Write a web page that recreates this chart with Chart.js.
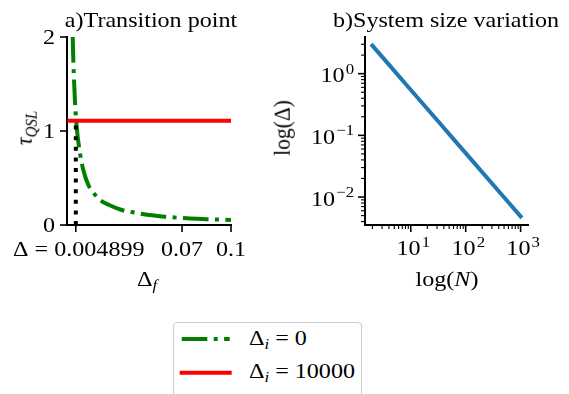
<!DOCTYPE html>
<html>
<head>
<meta charset="utf-8">
<script src="https://cdn.jsdelivr.net/npm/chart.js@4.4.1/dist/chart.umd.min.js"></script>
<style>
  body { margin: 0; width: 569px; height: 394px; overflow: hidden; background: #fff;
         font-family: "Liberation Serif", serif; color: #000; position: relative; }
  canvas { position: absolute; top: 0; }
  .t { position: absolute; font-size: 21.5px; line-height: 21.5px; white-space: nowrap; transform-origin: 50% 50%; }
  .c { transform: translateX(-50%) scaleX(1.12); }
  .l { transform-origin: 0 50%; transform: scaleX(1.12); }
  .r { transform: translate(-50%, -50%) scaleX(1.12) rotate(-90deg); }
  sub { font-size: 15px; line-height: 0; vertical-align: -4px; font-style: italic; }
  #legend { position: absolute; left: 173px; top: 322px; width: 187px; height: 90px;
            border: 1px solid #ccc; border-radius: 4px; background: #fff; }
  #legendLines { position: absolute; left: 173px; top: 322px; }
</style>
</head>
<body>
<canvas id="transition" width="290" height="300" style="left:0"></canvas>
<canvas id="sizes" width="279" height="300" style="left:290px"></canvas>

<div class="t c" style="left:151px;top:9.5px">a)Transition point</div>
<div class="t c" style="left:446px;top:9.5px">b)System size variation</div>
<div class="t c" style="left:147px;top:269px">Δ<sub>f</sub></div>
<div class="t c" style="left:447px;top:269px">log(<i>N</i>)</div>
<div class="t r" style="left:25px;top:128px"><i>τ</i><sub>QSL</sub></div>
<div class="t r" style="left:283px;top:128px">log(Δ)</div>

<div id="legend"></div>
<svg id="legendLines" width="70" height="70">
  <line x1="8.7" y1="17" x2="56.7" y2="17" stroke="#008000" stroke-width="4" stroke-dasharray="25.6 6.4 4 6.4"/>
  <line x1="8.7" y1="50.7" x2="56.7" y2="50.7" stroke="#ff0000" stroke-width="4" stroke-linecap="square"/>
</svg>
<div class="t l" style="left:249px;top:328px">Δ<sub>i</sub> = 0</div>
<div class="t l" style="left:249px;top:361px">Δ<sub>i</sub> = 10000</div>

<script>
// a) tau_QSL against final gap
const deltaF = [0.0030, 0.0034, 0.0044, 0.0054, 0.0075, 0.0095, 0.0126, 0.015, 0.0197,
                0.025, 0.033, 0.040, 0.050, 0.060, 0.073, 0.085, 0.100];
const tauZero = [2.00, 1.74, 1.31, 1.05, 0.76, 0.585, 0.425, 0.36, 0.266,
                 0.215, 0.160, 0.135, 0.106, 0.088, 0.071, 0.062, 0.053];
const deltaFLarge = [0.001, 0.1];
const tauLarge = [1.11, 1.11];
const transitionDelta = 0.004899;
const transitionTau = [0, 1.11];
const xTicksA = [0.004899, 0.07, 0.1];
const xLabelsA = ['Δ = 0.004899', '0.07', '0.1'];
const yTicksA = [0, 1, 2];

// b) gap against system size
const sysSizes = [2, 4, 8, 16, 32, 64, 128, 256, 512, 1000];
const gapVals = [2.85, 1.40, 0.687, 0.338, 0.166, 0.0815, 0.040, 0.0196, 0.00964, 0.00485];

const SX = 1.12;
const FONT = '21.5px "Liberation Serif"';
const SUP = '15px "Liberation Serif"';

function stretched(ctx, text, x, y, align) {
    ctx.save();
    ctx.translate(x, y);
    ctx.scale(SX, 1);
    ctx.textAlign = align;
    ctx.font = FONT;
    ctx.fillText(text, 0, 0);
    ctx.restore();
}

function power(ctx, v, x, y, align) {
    const e = Math.round(Math.log10(v));
    const exp = e < 0 ? '\u2212' + (-e) : String(e);
    ctx.font = FONT;
    const w1 = ctx.measureText('10').width;
    ctx.font = SUP;
    const w2 = ctx.measureText(exp).width;
    const total = (w1 + w2) * SX;
    const left = align === 'right' ? x - total : x - total / 2;
    ctx.save();
    ctx.translate(left, y);
    ctx.scale(SX, 1);
    ctx.textAlign = 'left';
    ctx.font = FONT;
    ctx.fillText('10', 0, 0);
    ctx.font = SUP;
    ctx.fillText(exp, w1 + 1, -8.5);
    ctx.restore();
}

// tick marks and labels, drawn against the chart's own scales
function axisMarks(cfg) {
    return {
        id: 'axisMarks',
        afterDraw(chart) {
            const { ctx, chartArea: a } = chart;
            const xs = chart.scales.x, ys = chart.scales.y;
            ctx.save();
            ctx.strokeStyle = '#000';
            ctx.fillStyle = '#000';
            xs.ticks.forEach((t, i) => {
                const px = xs.getPixelForValue(t.value);
                const major = t.major !== false;
                ctx.lineWidth = major ? 1.6 : 1.1;
                ctx.beginPath();
                ctx.moveTo(px, a.bottom);
                ctx.lineTo(px, a.bottom + (major ? 7 : 4));
                ctx.stroke();
                if (major) cfg.xLabel(ctx, t.value, i, px, a.bottom);
            });
            ys.ticks.forEach((t, i) => {
                const py = ys.getPixelForValue(t.value);
                const major = t.major !== false;
                ctx.lineWidth = major ? 1.6 : 1.1;
                ctx.beginPath();
                ctx.moveTo(a.left, py);
                ctx.lineTo(a.left - (major ? 7 : 4), py);
                ctx.stroke();
                if (major) cfg.yLabel(ctx, t.value, i, py, a.left);
            });
            ctx.restore();
        }
    };
}

function logTicks(scale) {
    const out = [];
    for (let e = Math.floor(Math.log10(scale.min)); e <= Math.ceil(Math.log10(scale.max)); e++) {
        for (let m = 1; m < 10; m++) {
            const v = m * Math.pow(10, e);
            if (v >= scale.min && v <= scale.max) out.push({ value: v, major: m === 1 });
        }
    }
    scale.ticks = out;
}

const border = { display: true, color: '#000', width: 2 };
const pts = (xs, ys) => xs.map((x, i) => ({ x, y: ys[i] }));

function drawCharts() {
    new Chart(document.getElementById('transition'), {
        type: 'line',
        data: {
            datasets: [
                {
                    data: pts(deltaF, tauZero), borderColor: '#008000', borderWidth: 4,
                    borderDash: [25.6, 6.4, 4, 6.4], borderCapStyle: 'butt',
                    cubicInterpolationMode: 'monotone', order: 3,
                },
                {
                    data: pts(deltaFLarge, tauLarge), borderColor: '#ff0000', borderWidth: 4,
                    borderCapStyle: 'square', order: 2,
                },
                {
                    data: pts([transitionDelta, transitionDelta], transitionTau), borderColor: '#000',
                    borderWidth: 4, borderDash: [4, 6.6], borderCapStyle: 'butt', order: 1,
                },
            ],
        },
        options: {
            responsive: false,
            animation: false,
            clip: 0,
            elements: { point: { radius: 0 } },
            layout: { padding: { top: 37, right: 59, left: 0, bottom: 0 } },
            plugins: { legend: { display: false }, tooltip: { enabled: false } },
            scales: {
                x: {
                    type: 'linear', min: -0.0005, max: 0.1,
                    grid: { display: false }, border, ticks: { display: false },
                    afterBuildTicks: s => { s.ticks = xTicksA.map(v => ({ value: v })); },
                    afterFit: s => { s.height = 75; },
                },
                y: {
                    type: 'linear', min: 0, max: 2,
                    grid: { display: false }, border, ticks: { display: false },
                    afterBuildTicks: s => { s.ticks = yTicksA.map(v => ({ value: v })); },
                    afterFit: s => { s.width = 67; },
                },
            },
        },
        plugins: [axisMarks({
            // the long first label sits a little right of its tick
            xLabel: (ctx, v, i, px, bottom) =>
                stretched(ctx, xLabelsA[i], i === 0 ? px + 3 : px, bottom + 31, 'center'),
            yLabel: (ctx, v, i, py, left) => stretched(ctx, String(v), left - 12, py + 7, 'right'),
        })],
    });

    new Chart(document.getElementById('sizes'), {
        type: 'line',
        data: {
            datasets: [{
                data: pts(sysSizes, gapVals), borderColor: '#1f77b4', borderWidth: 4,
                borderCapStyle: 'square',
            }],
        },
        options: {
            responsive: false,
            animation: false,
            clip: 0,
            elements: { point: { radius: 0 } },
            layout: { padding: { top: 37, right: 41, left: 0, bottom: 0 } },
            plugins: { legend: { display: false }, tooltip: { enabled: false } },
            scales: {
                x: {
                    type: 'logarithmic', min: 1.466, max: 1364,
                    grid: { display: false }, border, ticks: { display: false },
                    afterBuildTicks: logTicks,
                    afterFit: s => { s.height = 75; },
                },
                y: {
                    type: 'logarithmic', min: 0.00352, max: 3.93,
                    grid: { display: false }, border, ticks: { display: false },
                    afterBuildTicks: logTicks,
                    afterFit: s => { s.width = 75; },
                },
            },
        },
        plugins: [axisMarks({
            xLabel: (ctx, v, i, px, bottom) => power(ctx, v, px + 2, bottom + 30, 'center'),
            yLabel: (ctx, v, i, py, left) => power(ctx, v, left - 12, py + 8.5, 'right'),
        })],
    });
}

// canvas text needs the serif face loaded before the first draw
Promise.all([document.fonts.load(FONT), document.fonts.load(SUP)]).then(drawCharts, drawCharts);
</script>
</body>
</html>
